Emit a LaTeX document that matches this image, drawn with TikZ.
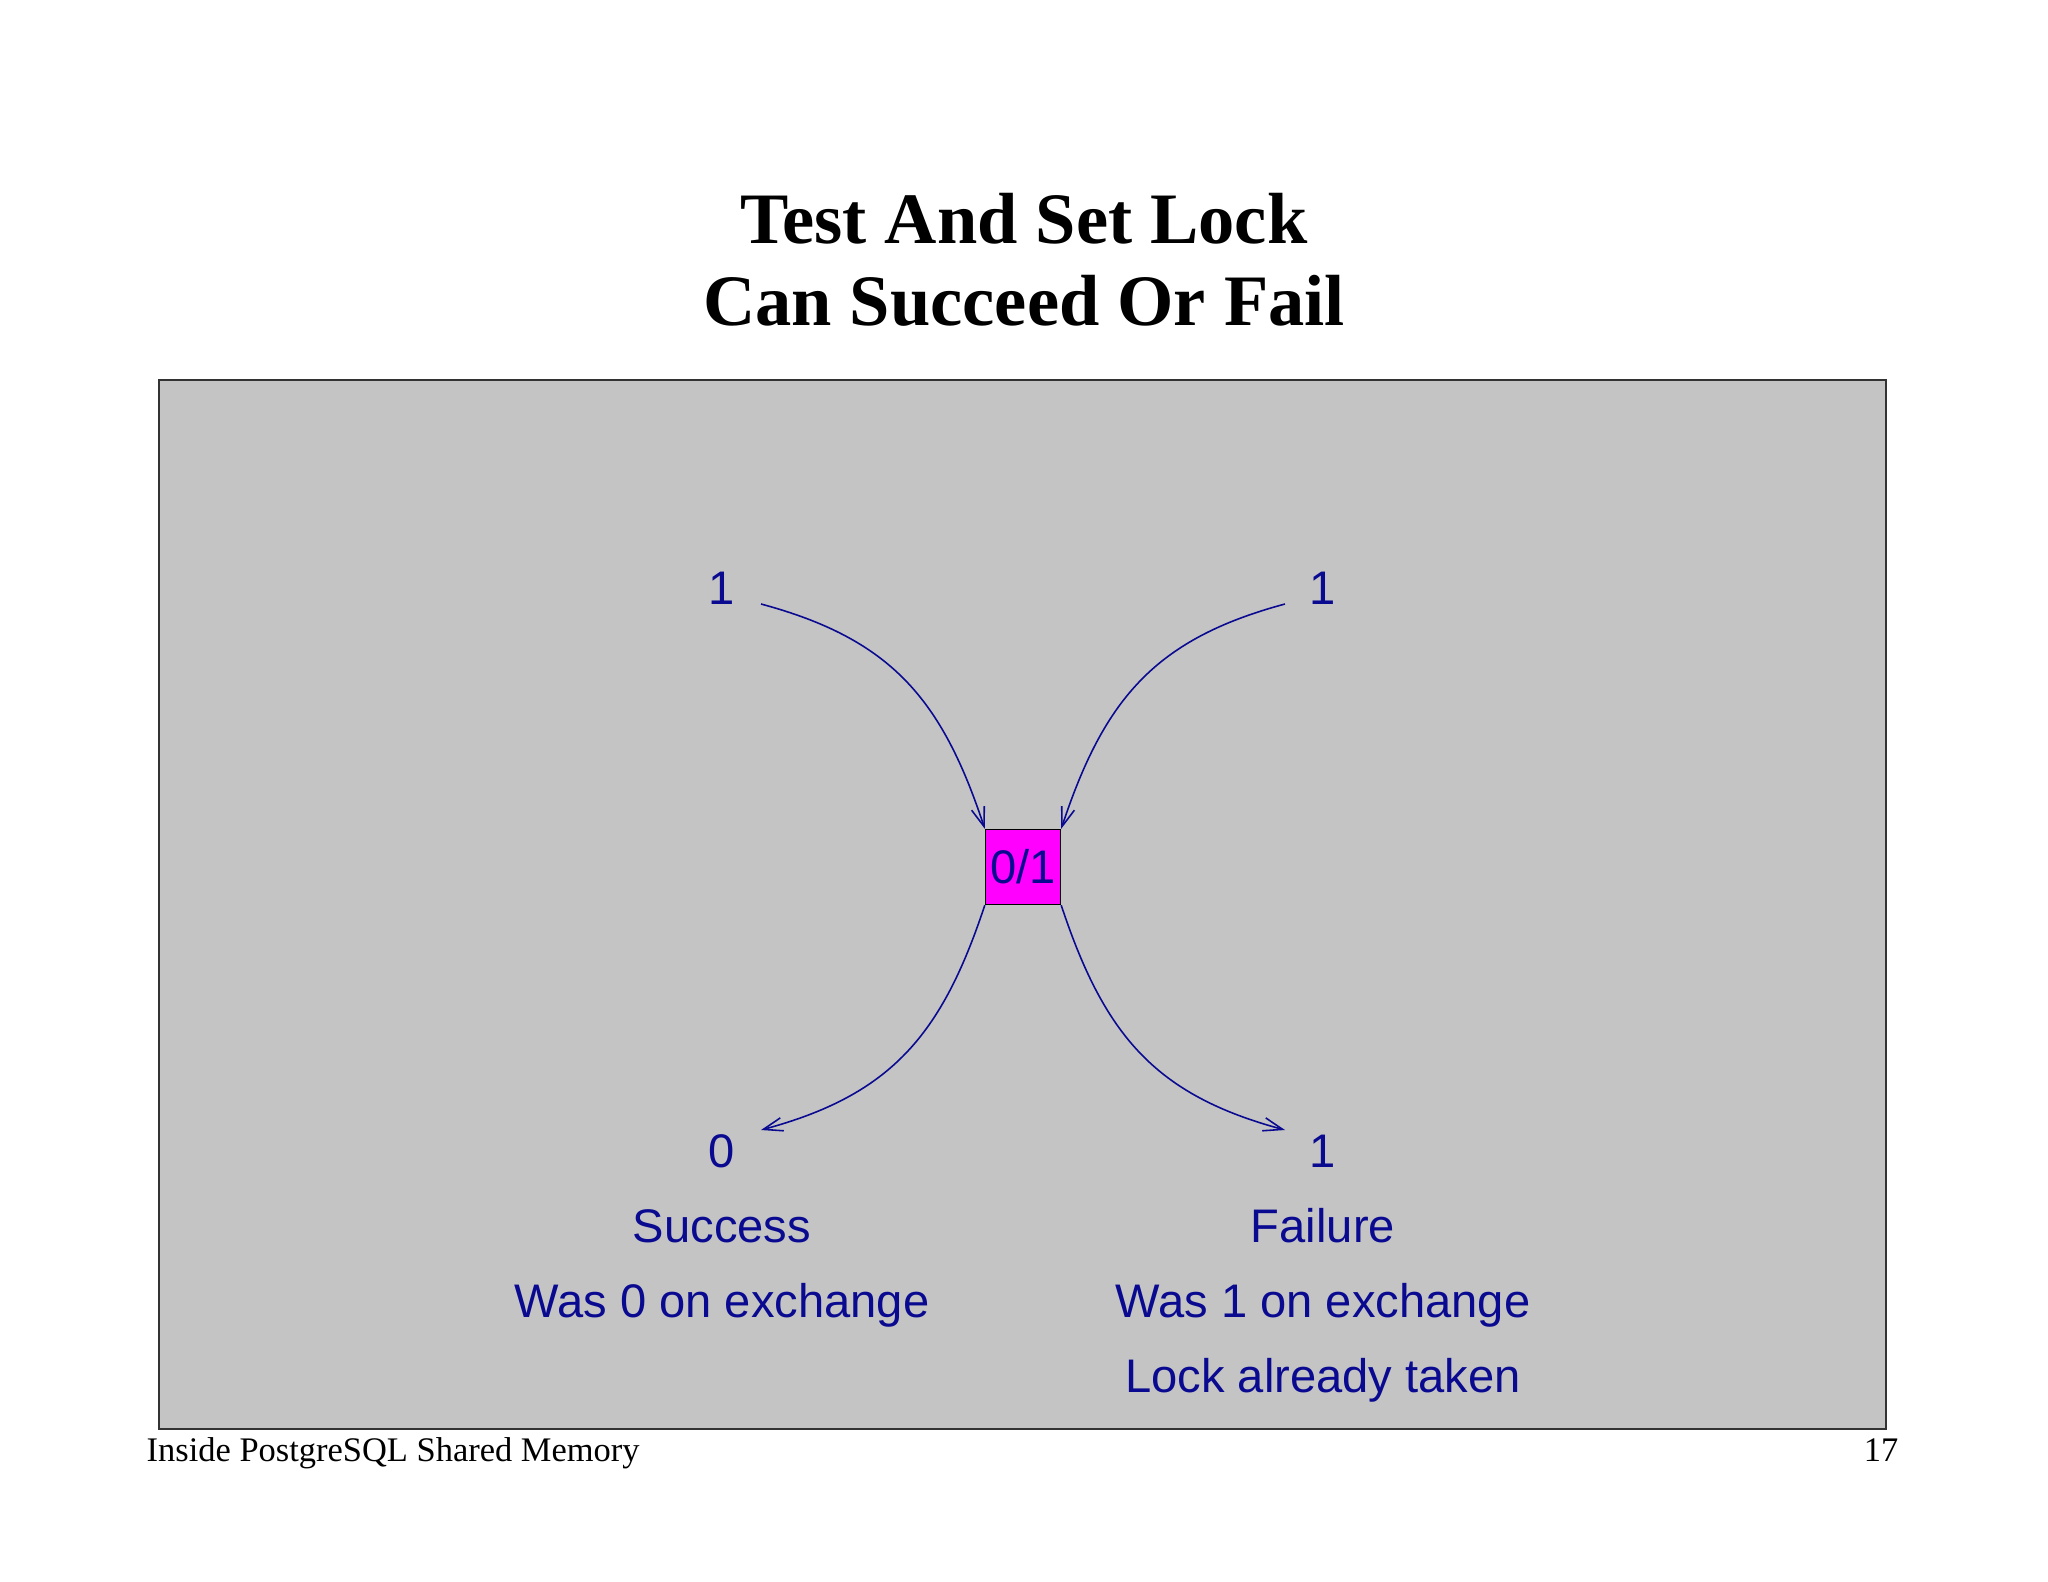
\documentclass[tikz,border=0pt]{standalone}
\usepackage{fontspec}
\setmainfont{Liberation Serif}
\newfontfamily\labelfont{Liberation Sans}
\usetikzlibrary{arrows.meta}
\definecolor{lblue}{RGB}{10,10,145}
\definecolor{panelgray}{RGB}{196,196,197}
\definecolor{lockpink}{RGB}{255,0,255}
\tikzset{
  lbl/.style={font=\labelfont\fontsize{13.4pt}{16pt}\selectfont, text=lblue, anchor=base, inner sep=0pt},
  arr/.style={draw=lblue, line width=0.45pt, -{Straight Barb[length=5.5pt,width=3.8pt]}},
  lockbox/.style={draw=black, line width=0.4pt, fill=lockpink, minimum size=0.75cm, inner sep=0pt,
    font=\labelfont\fontsize{13.4pt}{16pt}\selectfont, text=lblue},
  titletext/.style={font=\bfseries\fontsize{20.6pt}{25pt}\selectfont, anchor=base, inner sep=0pt},
  foot/.style={font=\fontsize{9.8pt}{12pt}\selectfont, anchor=base, inner sep=0pt}
}
\begin{document}
\begin{tikzpicture}[x=0.01cm,y=-0.01cm]
\useasboundingbox (0,0) rectangle (2048,1582);
% title
\node[titletext] (title1) at (1024,244) {Test And Set Lock};
\node[titletext] (title2) at (1024,326) {Can Succeed Or Fail};
% panel
\draw[fill=panelgray, draw=black!80, line width=0.5pt] (159,380) rectangle (1886,1429);
% lock cell
\node[lockbox] (lock) at (1023,867) {0/1};
% labels
\node[lbl] (inA) at (722,604) {1};
\node[lbl] (inB) at (1323,604) {1};
\node[lbl] (outA) at (722,1167) {0};
\node[lbl] (outB) at (1323,1167) {1};
\node[lbl] (succ) at (722,1242) {Success};
\node[lbl] (was0) at (722,1317) {Was 0 on exchange};
\node[lbl] (fail) at (1323,1242) {Failure};
\node[lbl] (was1) at (1323,1317) {Was 1 on exchange};
\node[lbl] (taken) at (1323,1392) {Lock already taken};
% connector ends
\coordinate (sA) at (761,604);
\coordinate (sB) at (1285,604);
\coordinate (eA) at (761,1130);
\coordinate (eB) at (1285,1130);
% connectors
\draw[arr] (sA) .. controls +(130,35) and +(-43,-130) .. (lock.north west);
\draw[arr] (sB) .. controls +(-130,35) and +(43,-130) .. (lock.north east);
\draw[arr] (lock.south west) .. controls +(-43,130) and +(130,-35) .. (eA);
\draw[arr] (lock.south east) .. controls +(43,130) and +(-130,-35) .. (eB);
% footer
\node[foot, anchor=base west] (footl) at (146,1461) {Inside PostgreSQL Shared Memory};
\node[foot, anchor=base east] (footr) at (1899,1461) {17};
\end{tikzpicture}
\end{document}
